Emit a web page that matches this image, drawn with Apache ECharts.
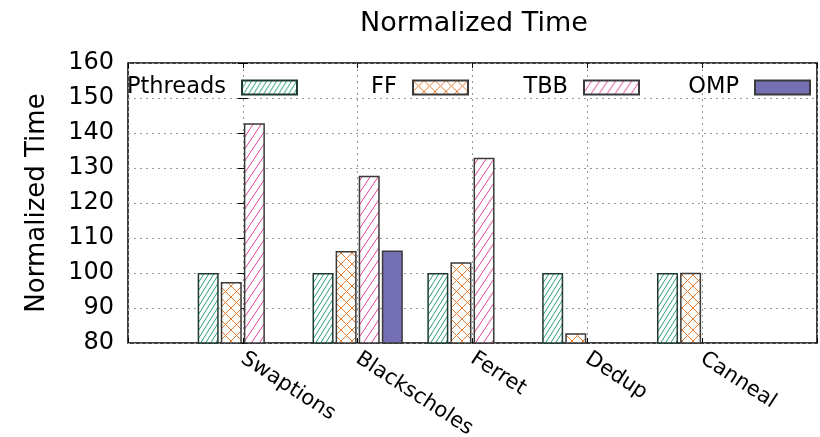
<!DOCTYPE html>
<html>
<head>
<meta charset="utf-8">
<script src="https://cdn.jsdelivr.net/npm/echarts@6/dist/echarts.min.js"></script>
<style>
html,body{margin:0;padding:0;background:#fff;}
#chart{width:820px;height:437px;}
</style>
</head>
<body>
<div id="chart"></div>
<script>
// ---- data ----
const categories = ['Swaptions', 'Blackscholes', 'Ferret', 'Dedup', 'Canneal'];
const seriesNames = ['Pthreads', 'FF', 'TBB', 'OMP'];
const pthreads = [100, 100, 100, 100, 100];
const ff = [97.4, 106.3, 103.1, 82.8, 100.1];
const tbb = [142.8, 127.8, 132.9, null, null];
const omp = [null, 106.4, null, null, null];
const yTicks = [80, 90, 100, 110, 120, 130, 140, 150, 160];

// ---- patterns ----
function diagTile(P, H, color, lw) {
  const c = document.createElement('canvas');
  c.width = P; c.height = H;
  const g = c.getContext('2d');
  g.fillStyle = '#fff'; g.fillRect(0, 0, P, H);
  g.strokeStyle = color; g.lineWidth = lw;
  for (let k = -1; k <= 1; k++) {
    g.beginPath();
    g.moveTo(k * P, H);
    g.lineTo((k + 1) * P, 0);
    g.stroke();
  }
  return c;
}
function crossTile(S, color, lw) {
  const c = document.createElement('canvas');
  c.width = S; c.height = S;
  const g = c.getContext('2d');
  g.fillStyle = '#fff'; g.fillRect(0, 0, S, S);
  g.strokeStyle = color; g.lineWidth = lw;
  for (let k = -1; k <= 1; k++) {
    g.beginPath(); g.moveTo(k * S, 0); g.lineTo((k + 1) * S, S); g.stroke();
    g.beginPath(); g.moveTo(k * S, S); g.lineTo((k + 1) * S, 0); g.stroke();
  }
  return c;
}
const fills = [
  { image: diagTile(5, 8, '#2a9f7e', 1), repeat: 'repeat' },
  { image: crossTile(11, '#e07d32', 1), repeat: 'repeat' },
  { image: diagTile(8, 12, '#e0479a', 1), repeat: 'repeat' },
  '#7570b3'
];
const borderCols = ['#1f3a30', '#3a3a3a', '#3a3a3a', '#3a3a3a'];

const allData = [pthreads, ff, tbb, omp];
const FONT = 'DejaVu Sans';

const series = seriesNames.map((name, i) => ({
  name: name,
  type: 'bar',
  barWidth: 21,
  barGap: '10%',
  data: allData[i].map((v, j) => v == null ? null : [j, v]).filter(d => d),
  itemStyle: { color: fills[i], borderColor: borderCols[i], borderWidth: 1.5 },
  emphasis: { disabled: true },
  animation: false
}));

const legendRights = [298, 469, 640, 811];
const legends = seriesNames.map((name, i) => ({
  data: [{ name: name, icon: 'rect' }],
  right: 820 - legendRights[i] - 5,
  top: 71,
  align: 'right',
  itemWidth: 55,
  itemHeight: 14,
  selectedMode: false,
  textStyle: { fontFamily: FONT, fontSize: 22.5, color: '#000', padding: [0, 11, 0, 0] }
}));

const chart = echarts.init(document.getElementById('chart'), null, { renderer: 'canvas' });
chart.setOption({
  animation: false,
  backgroundColor: '#fff',
  title: {
    text: 'Normalized Time',
    left: 469, textAlign: 'center',
    top: 5,
    textStyle: { fontFamily: FONT, fontSize: 27, fontWeight: 'normal', color: '#000' }
  },
  legend: legends,
  grid: {
    left: 128, right: 3, top: 63, bottom: 94,
    outerBoundsMode: 'none', containLabel: false,
    show: true, borderColor: '#000', borderWidth: 1.5, backgroundColor: 'transparent'
  },
  xAxis: [{
    type: 'value', min: -1, max: 5, interval: 1,
    axisLine: { show: false },
    axisTick: { show: true, inside: true, length: 5, lineStyle: { color: '#000' } },
    splitLine: { show: true, lineStyle: { color: '#999', type: [2, 4], width: 1 } },
    axisLabel: {
      rotate: -33, margin: 14,
      fontFamily: FONT, fontSize: 21, color: '#000',
      formatter: v => categories[v] || ''
    }
  }, {
    type: 'value', min: -1, max: 5, interval: 1, position: 'top',
    axisLine: { show: false },
    axisTick: { show: true, inside: true, length: 5, lineStyle: { color: '#000' } },
    splitLine: { show: false },
    axisLabel: { show: false }
  }],
  yAxis: [{
    type: 'value', min: yTicks[0], max: yTicks[yTicks.length - 1], interval: 10,
    name: 'Normalized Time', nameLocation: 'middle', nameGap: 78,
    nameTextStyle: { fontFamily: FONT, fontSize: 26, color: '#000' },
    axisLine: { show: false },
    axisTick: { show: true, inside: true, length: 5, lineStyle: { color: '#000' } },
    splitLine: { show: true, lineStyle: { color: '#999', type: [2, 4], width: 1 } },
    axisLabel: { fontFamily: FONT, fontSize: 24, color: '#000', margin: 14 }
  }, {
    type: 'value', min: yTicks[0], max: yTicks[yTicks.length - 1], interval: 10, position: 'right',
    axisLine: { show: false },
    axisTick: { show: true, inside: true, length: 5, lineStyle: { color: '#000' } },
    splitLine: { show: false },
    axisLabel: { show: false }
  }],
  series: series
});
</script>
</body>
</html>
